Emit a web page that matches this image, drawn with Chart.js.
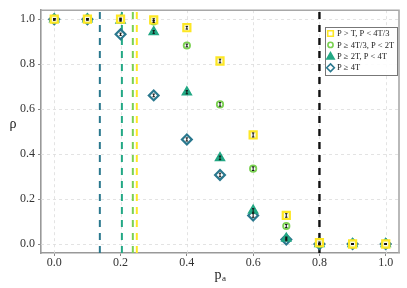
<!DOCTYPE html>
<html>
<head>
<meta charset="utf-8">
<script src="https://cdn.jsdelivr.net/npm/chart.js@4.4.1/dist/chart.umd.min.js"></script>
<style>
  html, body { margin: 0; padding: 0; background: #fff; }
  #wrap { width: 407px; height: 288px; }
</style>
</head>
<body>
<div id="wrap"><canvas id="rhoChart" width="407" height="288"></canvas></div>
<script>
// values
const pa = [0.0, 0.1, 0.2, 0.3, 0.4, 0.5, 0.6, 0.7, 0.8, 0.9, 1.0];
const rhoT43 = [1.0, 1.0, 1.0, 0.997, 0.962, 0.814, 0.485, 0.127, 0.006, 0.0, 0.0];
const rho43to2 = [1.0, 1.0, 1.0, 0.99, 0.883, 0.621, 0.335, 0.080, 0.0, 0.0, 0.0];
const rho2to4 = [1.0, 1.0, 0.995, 0.943, 0.675, 0.383, 0.149, 0.025, 0.0, 0.0, 0.0];
const rho4 = [1.0, 1.0, 0.933, 0.661, 0.465, 0.307, 0.127, 0.020, 0.0, 0.0, 0.0];
const errT43 = [0.003, 0.003, 0.004, 0.005, 0.006, 0.008, 0.009, 0.008, 0.003, 0.002, 0.002];
const err43to2 = [0.003, 0.003, 0.004, 0.005, 0.006, 0.008, 0.008, 0.007, 0.003, 0.002, 0.002];
const err2to4 = [0.003, 0.003, 0.004, 0.006, 0.007, 0.008, 0.008, 0.006, 0.003, 0.002, 0.002];
const err4 = [0.003, 0.003, 0.005, 0.006, 0.007, 0.008, 0.008, 0.006, 0.003, 0.002, 0.002];
const seriesLabels = ['P > T, P < 4T/3', 'P \u2265 4T/3, P < 2T', 'P \u2265 2T, P < 4T', 'P \u2265 4T'];
// vertical threshold lines
const thresholdX = [0.1375, 0.204, 0.237, 0.249, 0.8];
const tickVals = [0.0, 0.2, 0.4, 0.6, 0.8, 1.0];

const YELLOW = '#fde725', LGREEN = '#7ad151', TEAL = '#22a884', BLUE = '#2a788e';
const SERIF = '"Liberation Serif", "DejaVu Serif", serif';

function pts(ys) { return pa.map((x, i) => ({ x: x, y: ys[i] })); }
function vline(x) { return [{ x: x, y: -0.04 }, { x: x, y: 1.04 }]; }

const series = [
  { label: seriesLabels[0], data: pts(rhoT43), err: errT43, pointStyle: 'rect', pointRadius: 5, borderColor: YELLOW, backgroundColor: 'rgba(250,250,240,0.9)', borderWidth: 2.2 },
  { label: seriesLabels[1], data: pts(rho43to2), err: err43to2, pointStyle: 'circle', pointRadius: 3.2, borderColor: LGREEN, backgroundColor: 'rgba(250,250,250,0.85)', borderWidth: 1.8 },
  { label: seriesLabels[2], data: pts(rho2to4), err: err2to4, pointStyle: 'triangle', pointRadius: 5.3, borderColor: TEAL, backgroundColor: TEAL, borderWidth: 1.4 },
  { label: seriesLabels[3], data: pts(rho4), err: err4, pointStyle: 'rectRot', pointRadius: 4.9, borderColor: BLUE, backgroundColor: 'rgba(255,255,255,0.9)', borderWidth: 2.2 }
];

const lineColors = [BLUE, TEAL, LGREEN, YELLOW, '#111'];
const lines = thresholdX.map((x, i) => ({
  type: 'line',
  label: 'thr' + i,
  data: vline(x),
  borderColor: lineColors[i],
  borderWidth: i === 4 ? 2.4 : 2,
  borderDash: [7, 6],
  pointRadius: 0,
  fill: false
}));

// dashed grid + top/right spines
const gridPlugin = {
  id: 'gridPlugin',
  beforeDatasetsDraw(chart) {
    const { ctx, chartArea: a, scales } = chart;
    ctx.save();
    ctx.strokeStyle = '#dcdcdc';
    ctx.lineWidth = 0.8;
    ctx.setLineDash([3, 3]);
    tickVals.forEach(v => {
      const x = Math.round(scales.x.getPixelForValue(v)) + 0.5;
      ctx.beginPath(); ctx.moveTo(x, a.top); ctx.lineTo(x, a.bottom); ctx.stroke();
      const y = Math.round(scales.y.getPixelForValue(v)) + 0.5;
      ctx.beginPath(); ctx.moveTo(a.left, y); ctx.lineTo(a.right, y); ctx.stroke();
    });
    ctx.restore();
  },
  afterDraw(chart) {
    const { ctx, chartArea: a } = chart;
    ctx.save();
    ctx.strokeStyle = '#a8a8a8';
    ctx.lineWidth = 1.6;
    ctx.beginPath();
    ctx.moveTo(a.left, a.top); ctx.lineTo(a.right, a.top); ctx.lineTo(a.right, a.bottom);
    ctx.stroke();
    ctx.restore();
  }
};

// small black error bars inside markers
const errorBarPlugin = {
  id: 'errorBars',
  afterDatasetsDraw(chart) {
    const { ctx, scales } = chart;
    ctx.save();
    ctx.strokeStyle = '#111';
    ctx.lineWidth = 1;
    for (let d = series.length - 1; d >= 0; d--) {
      const ds = chart.data.datasets[d];
      ds.data.forEach((p, i) => {
        const x = scales.x.getPixelForValue(p.x);
        const y1 = scales.y.getPixelForValue(p.y - ds.err[i]);
        const y2 = scales.y.getPixelForValue(p.y + ds.err[i]);
        ctx.beginPath();
        ctx.moveTo(x, y1); ctx.lineTo(x, y2);
        ctx.moveTo(x - 1.2, y1); ctx.lineTo(x + 1.2, y1);
        ctx.moveTo(x - 1.2, y2); ctx.lineTo(x + 1.2, y2);
        ctx.stroke();
      });
    }
    ctx.restore();
  }
};

// axis titles and boxed legend
const labelPlugin = {
  id: 'labelPlugin',
  afterDraw(chart) {
    const { ctx, chartArea: a } = chart;
    ctx.save();
    ctx.fillStyle = '#222';
    ctx.textAlign = 'center';
    ctx.textBaseline = 'middle';
    ctx.font = '14px ' + SERIF;
    ctx.fillText('\u03c1', 13, 124);
    const cx = (a.left + a.right) / 2;
    ctx.font = '14px ' + SERIF;
    ctx.fillText('p', cx - 2, 275);
    ctx.font = '9px ' + SERIF;
    ctx.fillText('a', cx + 4, 279);

    // legend
    const lx = 325, ly = 27, lw = 72, lh = 48;
    ctx.fillStyle = 'rgba(255,255,255,0.9)';
    ctx.fillRect(lx, ly, lw, lh);
    ctx.strokeStyle = '#777';
    ctx.lineWidth = 1;
    ctx.strokeRect(lx + 0.5, ly + 0.5, lw, lh);
    ctx.font = '8.5px ' + SERIF;
    ctx.textAlign = 'left';
    series.forEach((s, i) => {
      const y = 33.5 + i * 11.4;
      const mx = 330.5;
      ctx.lineWidth = 1.6;
      ctx.strokeStyle = s.borderColor;
      ctx.fillStyle = s.pointStyle === 'triangle' ? s.borderColor : '#fff';
      ctx.beginPath();
      if (s.pointStyle === 'rect') {
        ctx.rect(mx - 2.8, y - 2.8, 5.6, 5.6);
      } else if (s.pointStyle === 'circle') {
        ctx.arc(mx, y, 2.6, 0, Math.PI * 2);
      } else if (s.pointStyle === 'triangle') {
        ctx.moveTo(mx, y - 3.6); ctx.lineTo(mx + 3.6, y + 2.6); ctx.lineTo(mx - 3.6, y + 2.6); ctx.closePath();
      } else {
        ctx.moveTo(mx, y - 3.8); ctx.lineTo(mx + 3.8, y); ctx.lineTo(mx, y + 3.8); ctx.lineTo(mx - 3.8, y); ctx.closePath();
      }
      ctx.fill();
      ctx.stroke();
      ctx.fillStyle = '#222';
      ctx.fillText(s.label, 337, y + 0.5);
    });
    ctx.restore();
  }
};

function tickLabel(v) { return Number(v).toFixed(1); }

new Chart(document.getElementById('rhoChart').getContext('2d'), {
  type: 'scatter',
  data: { datasets: series.concat(lines) },
  options: {
    responsive: false,
    animation: false,
    events: [],
    layout: { padding: { top: 7, right: 8, left: 0, bottom: 0 } },
    plugins: { legend: { display: false }, tooltip: { enabled: false } },
    scales: {
      x: {
        type: 'linear', min: -0.04, max: 1.04,
        afterFit(scale) { scale.height = 35; },
        afterBuildTicks(scale) { scale.ticks = tickVals.map(v => ({ value: v })); },
        ticks: { callback: tickLabel, color: '#333', font: { family: SERIF, size: 12 }, padding: 0, maxRotation: 0 },
        grid: { color: 'rgba(0,0,0,0)', tickColor: '#888', tickLength: 3, tickWidth: 1 },
        border: { color: '#999', width: 1.6 }
      },
      y: {
        type: 'linear', min: -0.04, max: 1.04,
        afterFit(scale) { scale.width = 41; },
        afterBuildTicks(scale) { scale.ticks = tickVals.map(v => ({ value: v })); },
        ticks: { callback: tickLabel, color: '#333', font: { family: SERIF, size: 12 }, padding: 3 },
        grid: { color: 'rgba(0,0,0,0)', tickColor: '#888', tickLength: 3, tickWidth: 1 },
        border: { color: '#999', width: 1.6 }
      }
    }
  },
  plugins: [gridPlugin, errorBarPlugin, labelPlugin]
});
</script>
</body>
</html>
